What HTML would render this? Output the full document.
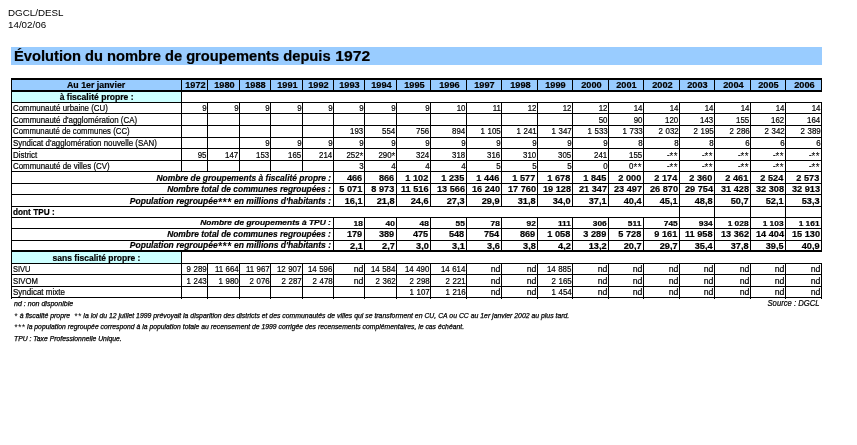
<!DOCTYPE html>
<html><head><meta charset="utf-8"><title>Évolution du nombre de groupements depuis 1972</title>
<style>
html,body{margin:0;padding:0;background:#fff;}
body{width:857px;height:445px;position:relative;overflow:hidden;font-family:"Liberation Sans",sans-serif;color:#000;}
#w{position:absolute;left:0;top:0;width:857px;height:445px;will-change:transform;}
.r{position:absolute;}
.t{position:absolute;white-space:nowrap;font-size:8.5px;line-height:10px;height:10px;overflow:visible;-webkit-text-stroke:0.2px #000;}
.t span{display:inline-block;}
.b{font-weight:bold;}
.bi{font-weight:bold;font-style:italic;}
.sm{font-size:7px;}
.sr{transform-origin:100% 50%;}
.sc{transform-origin:50% 50%;}
.sl{transform-origin:0 50%;}
.hy{transform:scaleX(1.078);}
.br{transform:scaleX(1.078);transform-origin:100% 50%;}
.sm .br{transform:scaleX(1.19);}
.nr{transform:scaleX(0.925);transform-origin:100% 50%;word-spacing:0.35px;}
.nd{transform:scaleX(1.03);transform-origin:100% 50%;}
.as{font-style:inherit;font-size:1.25em;letter-spacing:0.05em;position:relative;top:0.15em;line-height:0;-webkit-text-stroke:0;}
.hd{font-size:9.8px;line-height:12px;-webkit-text-stroke:0;}
.ttl{font-size:14px;font-weight:bold;}
.ttl span{transform:scaleX(1.049);transform-origin:0 50%;}
.fn{font-size:7px;font-style:italic;line-height:11px;-webkit-text-stroke:0.25px #000;}
.fn span{transform-origin:0 50%;}
.src{font-size:8.5px;font-style:italic;line-height:11px;}
.src span{transform-origin:100% 50%;}
</style></head>
<body>
<div id="w">
<div class="r" style="left:11px;top:47px;width:811px;height:18px;background:#9cf"></div>
<div class="r" style="left:11px;top:80px;width:811px;height:10px;background:#9cf"></div>
<div class="r" style="left:12px;top:92px;width:169px;height:10px;background:#cff"></div>
<div class="r" style="left:12px;top:252px;width:169px;height:11px;background:#cff"></div>
<div class="r" style="left:11px;top:78px;width:811px;height:2px;background:#000"></div>
<div class="r" style="left:11px;top:90px;width:811px;height:2px;background:#000"></div>
<div class="r" style="left:11px;top:102px;width:811px;height:1px;background:#000"></div>
<div class="r" style="left:11px;top:113px;width:811px;height:1px;background:#000"></div>
<div class="r" style="left:11px;top:125px;width:811px;height:1px;background:#000"></div>
<div class="r" style="left:11px;top:137px;width:811px;height:1px;background:#000"></div>
<div class="r" style="left:11px;top:148px;width:811px;height:1px;background:#000"></div>
<div class="r" style="left:11px;top:160px;width:811px;height:1px;background:#000"></div>
<div class="r" style="left:11px;top:171px;width:811px;height:1px;background:#000"></div>
<div class="r" style="left:11px;top:183px;width:811px;height:1px;background:#000"></div>
<div class="r" style="left:11px;top:194px;width:811px;height:1px;background:#000"></div>
<div class="r" style="left:11px;top:206px;width:811px;height:1px;background:#000"></div>
<div class="r" style="left:11px;top:217px;width:811px;height:1px;background:#000"></div>
<div class="r" style="left:11px;top:228px;width:811px;height:1px;background:#000"></div>
<div class="r" style="left:11px;top:240px;width:811px;height:1px;background:#000"></div>
<div class="r" style="left:11px;top:250px;width:811px;height:2px;background:#000"></div>
<div class="r" style="left:11px;top:263px;width:811px;height:1px;background:#000"></div>
<div class="r" style="left:11px;top:274px;width:811px;height:1px;background:#000"></div>
<div class="r" style="left:11px;top:286px;width:811px;height:1px;background:#000"></div>
<div class="r" style="left:11px;top:297px;width:811px;height:1px;background:#000"></div>
<div class="r" style="left:11px;top:78px;width:1px;height:221px;background:#000"></div>
<div class="r" style="left:181px;top:78px;width:1px;height:14px;background:#000"></div>
<div class="r" style="left:207px;top:78px;width:1px;height:14px;background:#000"></div>
<div class="r" style="left:239px;top:78px;width:1px;height:14px;background:#000"></div>
<div class="r" style="left:270px;top:78px;width:1px;height:14px;background:#000"></div>
<div class="r" style="left:302px;top:78px;width:1px;height:14px;background:#000"></div>
<div class="r" style="left:333px;top:78px;width:1px;height:14px;background:#000"></div>
<div class="r" style="left:364px;top:78px;width:1px;height:14px;background:#000"></div>
<div class="r" style="left:396px;top:78px;width:1px;height:14px;background:#000"></div>
<div class="r" style="left:430px;top:78px;width:1px;height:14px;background:#000"></div>
<div class="r" style="left:466px;top:78px;width:1px;height:14px;background:#000"></div>
<div class="r" style="left:501px;top:78px;width:1px;height:14px;background:#000"></div>
<div class="r" style="left:537px;top:78px;width:1px;height:14px;background:#000"></div>
<div class="r" style="left:572px;top:78px;width:1px;height:14px;background:#000"></div>
<div class="r" style="left:608px;top:78px;width:1px;height:14px;background:#000"></div>
<div class="r" style="left:643px;top:78px;width:1px;height:14px;background:#000"></div>
<div class="r" style="left:679px;top:78px;width:1px;height:14px;background:#000"></div>
<div class="r" style="left:714px;top:78px;width:1px;height:14px;background:#000"></div>
<div class="r" style="left:750px;top:78px;width:1px;height:14px;background:#000"></div>
<div class="r" style="left:785px;top:78px;width:1px;height:14px;background:#000"></div>
<div class="r" style="left:821px;top:78px;width:1px;height:14px;background:#000"></div>
<div class="r" style="left:181px;top:92px;width:1px;height:80px;background:#000"></div>
<div class="r" style="left:181px;top:252px;width:1px;height:47px;background:#000"></div>
<div class="r" style="left:207px;top:102px;width:1px;height:70px;background:#000"></div>
<div class="r" style="left:207px;top:263px;width:1px;height:36px;background:#000"></div>
<div class="r" style="left:239px;top:102px;width:1px;height:70px;background:#000"></div>
<div class="r" style="left:239px;top:263px;width:1px;height:36px;background:#000"></div>
<div class="r" style="left:270px;top:102px;width:1px;height:70px;background:#000"></div>
<div class="r" style="left:270px;top:263px;width:1px;height:36px;background:#000"></div>
<div class="r" style="left:302px;top:102px;width:1px;height:70px;background:#000"></div>
<div class="r" style="left:302px;top:263px;width:1px;height:36px;background:#000"></div>
<div class="r" style="left:333px;top:102px;width:1px;height:105px;background:#000"></div>
<div class="r" style="left:333px;top:217px;width:1px;height:35px;background:#000"></div>
<div class="r" style="left:333px;top:263px;width:1px;height:36px;background:#000"></div>
<div class="r" style="left:364px;top:102px;width:1px;height:105px;background:#000"></div>
<div class="r" style="left:364px;top:217px;width:1px;height:35px;background:#000"></div>
<div class="r" style="left:364px;top:263px;width:1px;height:36px;background:#000"></div>
<div class="r" style="left:396px;top:102px;width:1px;height:105px;background:#000"></div>
<div class="r" style="left:396px;top:217px;width:1px;height:35px;background:#000"></div>
<div class="r" style="left:396px;top:263px;width:1px;height:36px;background:#000"></div>
<div class="r" style="left:430px;top:102px;width:1px;height:105px;background:#000"></div>
<div class="r" style="left:430px;top:217px;width:1px;height:35px;background:#000"></div>
<div class="r" style="left:430px;top:263px;width:1px;height:36px;background:#000"></div>
<div class="r" style="left:466px;top:102px;width:1px;height:105px;background:#000"></div>
<div class="r" style="left:466px;top:217px;width:1px;height:35px;background:#000"></div>
<div class="r" style="left:466px;top:263px;width:1px;height:36px;background:#000"></div>
<div class="r" style="left:501px;top:102px;width:1px;height:105px;background:#000"></div>
<div class="r" style="left:501px;top:217px;width:1px;height:35px;background:#000"></div>
<div class="r" style="left:501px;top:263px;width:1px;height:36px;background:#000"></div>
<div class="r" style="left:537px;top:102px;width:1px;height:105px;background:#000"></div>
<div class="r" style="left:537px;top:217px;width:1px;height:35px;background:#000"></div>
<div class="r" style="left:537px;top:263px;width:1px;height:36px;background:#000"></div>
<div class="r" style="left:572px;top:102px;width:1px;height:105px;background:#000"></div>
<div class="r" style="left:572px;top:217px;width:1px;height:35px;background:#000"></div>
<div class="r" style="left:572px;top:263px;width:1px;height:36px;background:#000"></div>
<div class="r" style="left:608px;top:102px;width:1px;height:105px;background:#000"></div>
<div class="r" style="left:608px;top:217px;width:1px;height:35px;background:#000"></div>
<div class="r" style="left:608px;top:263px;width:1px;height:36px;background:#000"></div>
<div class="r" style="left:643px;top:102px;width:1px;height:105px;background:#000"></div>
<div class="r" style="left:643px;top:217px;width:1px;height:35px;background:#000"></div>
<div class="r" style="left:643px;top:263px;width:1px;height:36px;background:#000"></div>
<div class="r" style="left:679px;top:102px;width:1px;height:150px;background:#000"></div>
<div class="r" style="left:679px;top:263px;width:1px;height:36px;background:#000"></div>
<div class="r" style="left:714px;top:102px;width:1px;height:150px;background:#000"></div>
<div class="r" style="left:714px;top:263px;width:1px;height:36px;background:#000"></div>
<div class="r" style="left:750px;top:102px;width:1px;height:150px;background:#000"></div>
<div class="r" style="left:750px;top:263px;width:1px;height:36px;background:#000"></div>
<div class="r" style="left:785px;top:102px;width:1px;height:150px;background:#000"></div>
<div class="r" style="left:785px;top:263px;width:1px;height:36px;background:#000"></div>
<div class="r" style="left:821px;top:102px;width:1px;height:150px;background:#000"></div>
<div class="r" style="left:821px;top:263px;width:1px;height:36px;background:#000"></div>
<div class="t b" style="left:12px;top:80px;width:169px;text-align:center;"><span class="sc" style="transform:scaleX(1.036)">Au 1er janvier</span></div>
<div class="t b" style="left:182.5px;top:80px;width:25.0px;text-align:center;"><span class="sc hy">1972</span></div>
<div class="t b" style="left:208.5px;top:80px;width:31.0px;text-align:center;"><span class="sc hy">1980</span></div>
<div class="t b" style="left:240.5px;top:80px;width:30.0px;text-align:center;"><span class="sc hy">1988</span></div>
<div class="t b" style="left:271.5px;top:80px;width:31.0px;text-align:center;"><span class="sc hy">1991</span></div>
<div class="t b" style="left:303.5px;top:80px;width:30.0px;text-align:center;"><span class="sc hy">1992</span></div>
<div class="t b" style="left:334.5px;top:80px;width:30.0px;text-align:center;"><span class="sc hy">1993</span></div>
<div class="t b" style="left:365.5px;top:80px;width:31.0px;text-align:center;"><span class="sc hy">1994</span></div>
<div class="t b" style="left:397.5px;top:80px;width:33.0px;text-align:center;"><span class="sc hy">1995</span></div>
<div class="t b" style="left:431.5px;top:80px;width:35.0px;text-align:center;"><span class="sc hy">1996</span></div>
<div class="t b" style="left:467.5px;top:80px;width:34.0px;text-align:center;"><span class="sc hy">1997</span></div>
<div class="t b" style="left:502.5px;top:80px;width:35.0px;text-align:center;"><span class="sc hy">1998</span></div>
<div class="t b" style="left:538.5px;top:80px;width:34.0px;text-align:center;"><span class="sc hy">1999</span></div>
<div class="t b" style="left:573.5px;top:80px;width:35.0px;text-align:center;"><span class="sc hy">2000</span></div>
<div class="t b" style="left:609.5px;top:80px;width:34.0px;text-align:center;"><span class="sc hy">2001</span></div>
<div class="t b" style="left:644.5px;top:80px;width:35.0px;text-align:center;"><span class="sc hy">2002</span></div>
<div class="t b" style="left:680.5px;top:80px;width:34.0px;text-align:center;"><span class="sc hy">2003</span></div>
<div class="t b" style="left:715.5px;top:80px;width:35.0px;text-align:center;"><span class="sc hy">2004</span></div>
<div class="t b" style="left:751.5px;top:80px;width:34.0px;text-align:center;"><span class="sc hy">2005</span></div>
<div class="t b" style="left:786.5px;top:80px;width:35.0px;text-align:center;"><span class="sc hy">2006</span></div>
<div class="t b" style="left:12px;top:92px;width:169px;text-align:center;"><span class="sc" style="transform:scaleX(1.01)">à fiscalité propre :</span></div>
<div class="t b" style="left:12px;top:253px;width:169px;text-align:center;"><span class="sc" style="transform:scaleX(1.0)">sans fiscalité propre :</span></div>
<div class="t b" style="left:13px;top:207px;width:287px;text-align:left;"><span class="sl" style="transform:scaleX(0.97)">dont TPU :</span></div>
<div class="t " style="left:13px;top:103px;width:168px;text-align:left;"><span class="sl" style="transform:scaleX(0.93)">Communauté urbaine (CU)</span></div>
<div class="t " style="left:13px;top:115px;width:168px;text-align:left;"><span class="sl" style="transform:scaleX(0.93)">Communauté d'agglomération (CA)</span></div>
<div class="t " style="left:13px;top:126px;width:168px;text-align:left;"><span class="sl" style="transform:scaleX(0.918)">Communauté de communes (CC)</span></div>
<div class="t " style="left:13px;top:138px;width:168px;text-align:left;"><span class="sl" style="transform:scaleX(0.93)">Syndicat d'agglomération nouvelle (SAN)</span></div>
<div class="t " style="left:13px;top:150px;width:168px;text-align:left;"><span class="sl" style="transform:scaleX(0.935)">District</span></div>
<div class="t " style="left:13px;top:161px;width:168px;text-align:left;"><span class="sl" style="transform:scaleX(0.93)">Communauté de villes (CV)</span></div>
<div class="t " style="left:13px;top:264px;width:168px;text-align:left;"><span class="sl" style="transform:scaleX(0.88)">SIVU</span></div>
<div class="t " style="left:13px;top:276px;width:168px;text-align:left;"><span class="sl" style="transform:scaleX(0.906)">SIVOM</span></div>
<div class="t " style="left:13px;top:287px;width:168px;text-align:left;"><span class="sl" style="transform:scaleX(0.938)">Syndicat mixte</span></div>
<div class="t bi" style="left:12px;top:173px;width:319px;text-align:right;"><span class="sr" style="transform:scaleX(0.992)">Nombre de groupements à fiscalité propre :</span></div>
<div class="t bi" style="left:12px;top:184px;width:319px;text-align:right;"><span class="sr" style="transform:scaleX(0.987)">Nombre total de communes regroupées :</span></div>
<div class="t bi" style="left:12px;top:196px;width:319px;text-align:right;"><span class="sr" style="transform:scaleX(1.0)">Population regroupée<i class="as">***</i> en millions d'habitants :</span></div>
<div class="t bi sm" style="left:12px;top:218px;width:319px;text-align:right;"><span class="sr" style="transform:scaleX(1.2)">Nombre de groupements à TPU :</span></div>
<div class="t bi" style="left:12px;top:229px;width:319px;text-align:right;"><span class="sr" style="transform:scaleX(0.987)">Nombre total de communes regroupées :</span></div>
<div class="t bi" style="left:12px;top:240px;width:319px;text-align:right;"><span class="sr" style="transform:scaleX(1.0)">Population regroupée<i class="as">***</i> en millions d'habitants :</span></div>
<div class="t " style="left:182px;top:103px;width:24.5px;text-align:right;"><span class="nr">9</span></div>
<div class="t " style="left:208px;top:103px;width:30.5px;text-align:right;"><span class="nr">9</span></div>
<div class="t " style="left:240px;top:103px;width:29.5px;text-align:right;"><span class="nr">9</span></div>
<div class="t " style="left:271px;top:103px;width:30.5px;text-align:right;"><span class="nr">9</span></div>
<div class="t " style="left:303px;top:103px;width:29.5px;text-align:right;"><span class="nr">9</span></div>
<div class="t " style="left:334px;top:103px;width:29.5px;text-align:right;"><span class="nr">9</span></div>
<div class="t " style="left:365px;top:103px;width:30.5px;text-align:right;"><span class="nr">9</span></div>
<div class="t " style="left:397px;top:103px;width:32.5px;text-align:right;"><span class="nr">9</span></div>
<div class="t " style="left:431px;top:103px;width:34.5px;text-align:right;"><span class="nr">10</span></div>
<div class="t " style="left:467px;top:103px;width:33.5px;text-align:right;"><span class="nr">11</span></div>
<div class="t " style="left:502px;top:103px;width:34.5px;text-align:right;"><span class="nr">12</span></div>
<div class="t " style="left:538px;top:103px;width:33.5px;text-align:right;"><span class="nr">12</span></div>
<div class="t " style="left:573px;top:103px;width:34.5px;text-align:right;"><span class="nr">12</span></div>
<div class="t " style="left:609px;top:103px;width:33.5px;text-align:right;"><span class="nr">14</span></div>
<div class="t " style="left:644px;top:103px;width:34.5px;text-align:right;"><span class="nr">14</span></div>
<div class="t " style="left:680px;top:103px;width:33.5px;text-align:right;"><span class="nr">14</span></div>
<div class="t " style="left:715px;top:103px;width:34.5px;text-align:right;"><span class="nr">14</span></div>
<div class="t " style="left:751px;top:103px;width:33.5px;text-align:right;"><span class="nr">14</span></div>
<div class="t " style="left:786px;top:103px;width:34.5px;text-align:right;"><span class="nr">14</span></div>
<div class="t " style="left:573px;top:115px;width:34.5px;text-align:right;"><span class="nr">50</span></div>
<div class="t " style="left:609px;top:115px;width:33.5px;text-align:right;"><span class="nr">90</span></div>
<div class="t " style="left:644px;top:115px;width:34.5px;text-align:right;"><span class="nr">120</span></div>
<div class="t " style="left:680px;top:115px;width:33.5px;text-align:right;"><span class="nr">143</span></div>
<div class="t " style="left:715px;top:115px;width:34.5px;text-align:right;"><span class="nr">155</span></div>
<div class="t " style="left:751px;top:115px;width:33.5px;text-align:right;"><span class="nr">162</span></div>
<div class="t " style="left:786px;top:115px;width:34.5px;text-align:right;"><span class="nr">164</span></div>
<div class="t " style="left:334px;top:126px;width:29.5px;text-align:right;"><span class="nr">193</span></div>
<div class="t " style="left:365px;top:126px;width:30.5px;text-align:right;"><span class="nr">554</span></div>
<div class="t " style="left:397px;top:126px;width:32.5px;text-align:right;"><span class="nr">756</span></div>
<div class="t " style="left:431px;top:126px;width:34.5px;text-align:right;"><span class="nr">894</span></div>
<div class="t " style="left:467px;top:126px;width:33.5px;text-align:right;"><span class="nr">1 105</span></div>
<div class="t " style="left:502px;top:126px;width:34.5px;text-align:right;"><span class="nr">1 241</span></div>
<div class="t " style="left:538px;top:126px;width:33.5px;text-align:right;"><span class="nr">1 347</span></div>
<div class="t " style="left:573px;top:126px;width:34.5px;text-align:right;"><span class="nr">1 533</span></div>
<div class="t " style="left:609px;top:126px;width:33.5px;text-align:right;"><span class="nr">1 733</span></div>
<div class="t " style="left:644px;top:126px;width:34.5px;text-align:right;"><span class="nr">2 032</span></div>
<div class="t " style="left:680px;top:126px;width:33.5px;text-align:right;"><span class="nr">2 195</span></div>
<div class="t " style="left:715px;top:126px;width:34.5px;text-align:right;"><span class="nr">2 286</span></div>
<div class="t " style="left:751px;top:126px;width:33.5px;text-align:right;"><span class="nr">2 342</span></div>
<div class="t " style="left:786px;top:126px;width:34.5px;text-align:right;"><span class="nr">2 389</span></div>
<div class="t " style="left:240px;top:138px;width:29.5px;text-align:right;"><span class="nr">9</span></div>
<div class="t " style="left:271px;top:138px;width:30.5px;text-align:right;"><span class="nr">9</span></div>
<div class="t " style="left:303px;top:138px;width:29.5px;text-align:right;"><span class="nr">9</span></div>
<div class="t " style="left:334px;top:138px;width:29.5px;text-align:right;"><span class="nr">9</span></div>
<div class="t " style="left:365px;top:138px;width:30.5px;text-align:right;"><span class="nr">9</span></div>
<div class="t " style="left:397px;top:138px;width:32.5px;text-align:right;"><span class="nr">9</span></div>
<div class="t " style="left:431px;top:138px;width:34.5px;text-align:right;"><span class="nr">9</span></div>
<div class="t " style="left:467px;top:138px;width:33.5px;text-align:right;"><span class="nr">9</span></div>
<div class="t " style="left:502px;top:138px;width:34.5px;text-align:right;"><span class="nr">9</span></div>
<div class="t " style="left:538px;top:138px;width:33.5px;text-align:right;"><span class="nr">9</span></div>
<div class="t " style="left:573px;top:138px;width:34.5px;text-align:right;"><span class="nr">9</span></div>
<div class="t " style="left:609px;top:138px;width:33.5px;text-align:right;"><span class="nr">8</span></div>
<div class="t " style="left:644px;top:138px;width:34.5px;text-align:right;"><span class="nr">8</span></div>
<div class="t " style="left:680px;top:138px;width:33.5px;text-align:right;"><span class="nr">8</span></div>
<div class="t " style="left:715px;top:138px;width:34.5px;text-align:right;"><span class="nr">6</span></div>
<div class="t " style="left:751px;top:138px;width:33.5px;text-align:right;"><span class="nr">6</span></div>
<div class="t " style="left:786px;top:138px;width:34.5px;text-align:right;"><span class="nr">6</span></div>
<div class="t " style="left:182px;top:150px;width:24.5px;text-align:right;"><span class="nr">95</span></div>
<div class="t " style="left:208px;top:150px;width:30.5px;text-align:right;"><span class="nr">147</span></div>
<div class="t " style="left:240px;top:150px;width:29.5px;text-align:right;"><span class="nr">153</span></div>
<div class="t " style="left:271px;top:150px;width:30.5px;text-align:right;"><span class="nr">165</span></div>
<div class="t " style="left:303px;top:150px;width:29.5px;text-align:right;"><span class="nr">214</span></div>
<div class="t " style="left:334px;top:150px;width:29.5px;text-align:right;"><span class="nr">252<i class="as">*</i></span></div>
<div class="t " style="left:365px;top:150px;width:30.5px;text-align:right;"><span class="nr">290<i class="as">*</i></span></div>
<div class="t " style="left:397px;top:150px;width:32.5px;text-align:right;"><span class="nr">324</span></div>
<div class="t " style="left:431px;top:150px;width:34.5px;text-align:right;"><span class="nr">318</span></div>
<div class="t " style="left:467px;top:150px;width:33.5px;text-align:right;"><span class="nr">316</span></div>
<div class="t " style="left:502px;top:150px;width:34.5px;text-align:right;"><span class="nr">310</span></div>
<div class="t " style="left:538px;top:150px;width:33.5px;text-align:right;"><span class="nr">305</span></div>
<div class="t " style="left:573px;top:150px;width:34.5px;text-align:right;"><span class="nr">241</span></div>
<div class="t " style="left:609px;top:150px;width:33.5px;text-align:right;"><span class="nr">155</span></div>
<div class="t " style="left:644px;top:150px;width:34.5px;text-align:right;"><span class="nr">-<i class="as">**</i></span></div>
<div class="t " style="left:680px;top:150px;width:33.5px;text-align:right;"><span class="nr">-<i class="as">**</i></span></div>
<div class="t " style="left:715px;top:150px;width:34.5px;text-align:right;"><span class="nr">-<i class="as">**</i></span></div>
<div class="t " style="left:751px;top:150px;width:33.5px;text-align:right;"><span class="nr">-<i class="as">**</i></span></div>
<div class="t " style="left:786px;top:150px;width:34.5px;text-align:right;"><span class="nr">-<i class="as">**</i></span></div>
<div class="t " style="left:334px;top:161px;width:29.5px;text-align:right;"><span class="nr">3</span></div>
<div class="t " style="left:365px;top:161px;width:30.5px;text-align:right;"><span class="nr">4</span></div>
<div class="t " style="left:397px;top:161px;width:32.5px;text-align:right;"><span class="nr">4</span></div>
<div class="t " style="left:431px;top:161px;width:34.5px;text-align:right;"><span class="nr">4</span></div>
<div class="t " style="left:467px;top:161px;width:33.5px;text-align:right;"><span class="nr">5</span></div>
<div class="t " style="left:502px;top:161px;width:34.5px;text-align:right;"><span class="nr">5</span></div>
<div class="t " style="left:538px;top:161px;width:33.5px;text-align:right;"><span class="nr">5</span></div>
<div class="t " style="left:573px;top:161px;width:34.5px;text-align:right;"><span class="nr">0</span></div>
<div class="t " style="left:609px;top:161px;width:33.5px;text-align:right;"><span class="nr">0<i class="as">**</i></span></div>
<div class="t " style="left:644px;top:161px;width:34.5px;text-align:right;"><span class="nr">-<i class="as">**</i></span></div>
<div class="t " style="left:680px;top:161px;width:33.5px;text-align:right;"><span class="nr">-<i class="as">**</i></span></div>
<div class="t " style="left:715px;top:161px;width:34.5px;text-align:right;"><span class="nr">-<i class="as">**</i></span></div>
<div class="t " style="left:751px;top:161px;width:33.5px;text-align:right;"><span class="nr">-<i class="as">**</i></span></div>
<div class="t " style="left:786px;top:161px;width:34.5px;text-align:right;"><span class="nr">-<i class="as">**</i></span></div>
<div class="t b" style="left:334px;top:173px;width:28.5px;text-align:right;"><span class="br">466</span></div>
<div class="t b" style="left:365px;top:173px;width:29.5px;text-align:right;"><span class="br">866</span></div>
<div class="t b" style="left:397px;top:173px;width:31.5px;text-align:right;"><span class="br">1 102</span></div>
<div class="t b" style="left:431px;top:173px;width:33.5px;text-align:right;"><span class="br">1 235</span></div>
<div class="t b" style="left:467px;top:173px;width:32.5px;text-align:right;"><span class="br">1 446</span></div>
<div class="t b" style="left:502px;top:173px;width:33.5px;text-align:right;"><span class="br">1 577</span></div>
<div class="t b" style="left:538px;top:173px;width:32.5px;text-align:right;"><span class="br">1 678</span></div>
<div class="t b" style="left:573px;top:173px;width:33.5px;text-align:right;"><span class="br">1 845</span></div>
<div class="t b" style="left:609px;top:173px;width:32.5px;text-align:right;"><span class="br">2 000</span></div>
<div class="t b" style="left:644px;top:173px;width:33.5px;text-align:right;"><span class="br">2 174</span></div>
<div class="t b" style="left:680px;top:173px;width:32.5px;text-align:right;"><span class="br">2 360</span></div>
<div class="t b" style="left:715px;top:173px;width:33.5px;text-align:right;"><span class="br">2 461</span></div>
<div class="t b" style="left:751px;top:173px;width:32.5px;text-align:right;"><span class="br">2 524</span></div>
<div class="t b" style="left:786px;top:173px;width:33.5px;text-align:right;"><span class="br">2 573</span></div>
<div class="t b" style="left:334px;top:184px;width:28.5px;text-align:right;"><span class="br">5 071</span></div>
<div class="t b" style="left:365px;top:184px;width:29.5px;text-align:right;"><span class="br">8 973</span></div>
<div class="t b" style="left:397px;top:184px;width:31.5px;text-align:right;"><span class="br">11 516</span></div>
<div class="t b" style="left:431px;top:184px;width:33.5px;text-align:right;"><span class="br">13 566</span></div>
<div class="t b" style="left:467px;top:184px;width:32.5px;text-align:right;"><span class="br">16 240</span></div>
<div class="t b" style="left:502px;top:184px;width:33.5px;text-align:right;"><span class="br">17 760</span></div>
<div class="t b" style="left:538px;top:184px;width:32.5px;text-align:right;"><span class="br">19 128</span></div>
<div class="t b" style="left:573px;top:184px;width:33.5px;text-align:right;"><span class="br">21 347</span></div>
<div class="t b" style="left:609px;top:184px;width:32.5px;text-align:right;"><span class="br">23 497</span></div>
<div class="t b" style="left:644px;top:184px;width:33.5px;text-align:right;"><span class="br">26 870</span></div>
<div class="t b" style="left:680px;top:184px;width:32.5px;text-align:right;"><span class="br">29 754</span></div>
<div class="t b" style="left:715px;top:184px;width:33.5px;text-align:right;"><span class="br">31 428</span></div>
<div class="t b" style="left:751px;top:184px;width:32.5px;text-align:right;"><span class="br">32 308</span></div>
<div class="t b" style="left:786px;top:184px;width:33.5px;text-align:right;"><span class="br">32 913</span></div>
<div class="t b" style="left:334px;top:196px;width:28.5px;text-align:right;"><span class="br">16,1</span></div>
<div class="t b" style="left:365px;top:196px;width:29.5px;text-align:right;"><span class="br">21,8</span></div>
<div class="t b" style="left:397px;top:196px;width:31.5px;text-align:right;"><span class="br">24,6</span></div>
<div class="t b" style="left:431px;top:196px;width:33.5px;text-align:right;"><span class="br">27,3</span></div>
<div class="t b" style="left:467px;top:196px;width:32.5px;text-align:right;"><span class="br">29,9</span></div>
<div class="t b" style="left:502px;top:196px;width:33.5px;text-align:right;"><span class="br">31,8</span></div>
<div class="t b" style="left:538px;top:196px;width:32.5px;text-align:right;"><span class="br">34,0</span></div>
<div class="t b" style="left:573px;top:196px;width:33.5px;text-align:right;"><span class="br">37,1</span></div>
<div class="t b" style="left:609px;top:196px;width:32.5px;text-align:right;"><span class="br">40,4</span></div>
<div class="t b" style="left:644px;top:196px;width:33.5px;text-align:right;"><span class="br">45,1</span></div>
<div class="t b" style="left:680px;top:196px;width:32.5px;text-align:right;"><span class="br">48,8</span></div>
<div class="t b" style="left:715px;top:196px;width:33.5px;text-align:right;"><span class="br">50,7</span></div>
<div class="t b" style="left:751px;top:196px;width:32.5px;text-align:right;"><span class="br">52,1</span></div>
<div class="t b" style="left:786px;top:196px;width:33.5px;text-align:right;"><span class="br">53,3</span></div>
<div class="t b sm" style="left:334px;top:219px;width:28.5px;text-align:right;"><span class="br">18</span></div>
<div class="t b sm" style="left:365px;top:219px;width:29.5px;text-align:right;"><span class="br">40</span></div>
<div class="t b sm" style="left:397px;top:219px;width:31.5px;text-align:right;"><span class="br">48</span></div>
<div class="t b sm" style="left:431px;top:219px;width:33.5px;text-align:right;"><span class="br">55</span></div>
<div class="t b sm" style="left:467px;top:219px;width:32.5px;text-align:right;"><span class="br">78</span></div>
<div class="t b sm" style="left:502px;top:219px;width:33.5px;text-align:right;"><span class="br">92</span></div>
<div class="t b sm" style="left:538px;top:219px;width:32.5px;text-align:right;"><span class="br">111</span></div>
<div class="t b sm" style="left:573px;top:219px;width:33.5px;text-align:right;"><span class="br">306</span></div>
<div class="t b sm" style="left:609px;top:219px;width:32.5px;text-align:right;"><span class="br">511</span></div>
<div class="t b sm" style="left:644px;top:219px;width:33.5px;text-align:right;"><span class="br">745</span></div>
<div class="t b sm" style="left:680px;top:219px;width:32.5px;text-align:right;"><span class="br">934</span></div>
<div class="t b sm" style="left:715px;top:219px;width:33.5px;text-align:right;"><span class="br">1 028</span></div>
<div class="t b sm" style="left:751px;top:219px;width:32.5px;text-align:right;"><span class="br">1 103</span></div>
<div class="t b sm" style="left:786px;top:219px;width:33.5px;text-align:right;"><span class="br">1 161</span></div>
<div class="t b" style="left:334px;top:229px;width:28.5px;text-align:right;"><span class="br">179</span></div>
<div class="t b" style="left:365px;top:229px;width:29.5px;text-align:right;"><span class="br">389</span></div>
<div class="t b" style="left:397px;top:229px;width:31.5px;text-align:right;"><span class="br">475</span></div>
<div class="t b" style="left:431px;top:229px;width:33.5px;text-align:right;"><span class="br">548</span></div>
<div class="t b" style="left:467px;top:229px;width:32.5px;text-align:right;"><span class="br">754</span></div>
<div class="t b" style="left:502px;top:229px;width:33.5px;text-align:right;"><span class="br">869</span></div>
<div class="t b" style="left:538px;top:229px;width:32.5px;text-align:right;"><span class="br">1 058</span></div>
<div class="t b" style="left:573px;top:229px;width:33.5px;text-align:right;"><span class="br">3 289</span></div>
<div class="t b" style="left:609px;top:229px;width:32.5px;text-align:right;"><span class="br">5 728</span></div>
<div class="t b" style="left:644px;top:229px;width:33.5px;text-align:right;"><span class="br">9 161</span></div>
<div class="t b" style="left:680px;top:229px;width:32.5px;text-align:right;"><span class="br">11 958</span></div>
<div class="t b" style="left:715px;top:229px;width:33.5px;text-align:right;"><span class="br">13 362</span></div>
<div class="t b" style="left:751px;top:229px;width:32.5px;text-align:right;"><span class="br">14 404</span></div>
<div class="t b" style="left:786px;top:229px;width:33.5px;text-align:right;"><span class="br">15 130</span></div>
<div class="t b" style="left:334px;top:241px;width:28.5px;text-align:right;"><span class="br">2,1</span></div>
<div class="t b" style="left:365px;top:241px;width:29.5px;text-align:right;"><span class="br">2,7</span></div>
<div class="t b" style="left:397px;top:241px;width:31.5px;text-align:right;"><span class="br">3,0</span></div>
<div class="t b" style="left:431px;top:241px;width:33.5px;text-align:right;"><span class="br">3,1</span></div>
<div class="t b" style="left:467px;top:241px;width:32.5px;text-align:right;"><span class="br">3,6</span></div>
<div class="t b" style="left:502px;top:241px;width:33.5px;text-align:right;"><span class="br">3,8</span></div>
<div class="t b" style="left:538px;top:241px;width:32.5px;text-align:right;"><span class="br">4,2</span></div>
<div class="t b" style="left:573px;top:241px;width:33.5px;text-align:right;"><span class="br">13,2</span></div>
<div class="t b" style="left:609px;top:241px;width:32.5px;text-align:right;"><span class="br">20,7</span></div>
<div class="t b" style="left:644px;top:241px;width:33.5px;text-align:right;"><span class="br">29,7</span></div>
<div class="t b" style="left:680px;top:241px;width:32.5px;text-align:right;"><span class="br">35,4</span></div>
<div class="t b" style="left:715px;top:241px;width:33.5px;text-align:right;"><span class="br">37,8</span></div>
<div class="t b" style="left:751px;top:241px;width:32.5px;text-align:right;"><span class="br">39,5</span></div>
<div class="t b" style="left:786px;top:241px;width:33.5px;text-align:right;"><span class="br">40,9</span></div>
<div class="t " style="left:182px;top:264px;width:24.5px;text-align:right;"><span class="nr">9 289</span></div>
<div class="t " style="left:208px;top:264px;width:30.5px;text-align:right;"><span class="nr">11 664</span></div>
<div class="t " style="left:240px;top:264px;width:29.5px;text-align:right;"><span class="nr">11 967</span></div>
<div class="t " style="left:271px;top:264px;width:30.5px;text-align:right;"><span class="nr">12 907</span></div>
<div class="t " style="left:303px;top:264px;width:29.5px;text-align:right;"><span class="nr">14 596</span></div>
<div class="t " style="left:334px;top:264px;width:29.5px;text-align:right;"><span class="nd">nd</span></div>
<div class="t " style="left:365px;top:264px;width:30.5px;text-align:right;"><span class="nr">14 584</span></div>
<div class="t " style="left:397px;top:264px;width:32.5px;text-align:right;"><span class="nr">14 490</span></div>
<div class="t " style="left:431px;top:264px;width:34.5px;text-align:right;"><span class="nr">14 614</span></div>
<div class="t " style="left:467px;top:264px;width:33.5px;text-align:right;"><span class="nd">nd</span></div>
<div class="t " style="left:502px;top:264px;width:34.5px;text-align:right;"><span class="nd">nd</span></div>
<div class="t " style="left:538px;top:264px;width:33.5px;text-align:right;"><span class="nr">14 885</span></div>
<div class="t " style="left:573px;top:264px;width:34.5px;text-align:right;"><span class="nd">nd</span></div>
<div class="t " style="left:609px;top:264px;width:33.5px;text-align:right;"><span class="nd">nd</span></div>
<div class="t " style="left:644px;top:264px;width:34.5px;text-align:right;"><span class="nd">nd</span></div>
<div class="t " style="left:680px;top:264px;width:33.5px;text-align:right;"><span class="nd">nd</span></div>
<div class="t " style="left:715px;top:264px;width:34.5px;text-align:right;"><span class="nd">nd</span></div>
<div class="t " style="left:751px;top:264px;width:33.5px;text-align:right;"><span class="nd">nd</span></div>
<div class="t " style="left:786px;top:264px;width:34.5px;text-align:right;"><span class="nd">nd</span></div>
<div class="t " style="left:182px;top:276px;width:24.5px;text-align:right;"><span class="nr">1 243</span></div>
<div class="t " style="left:208px;top:276px;width:30.5px;text-align:right;"><span class="nr">1 980</span></div>
<div class="t " style="left:240px;top:276px;width:29.5px;text-align:right;"><span class="nr">2 076</span></div>
<div class="t " style="left:271px;top:276px;width:30.5px;text-align:right;"><span class="nr">2 287</span></div>
<div class="t " style="left:303px;top:276px;width:29.5px;text-align:right;"><span class="nr">2 478</span></div>
<div class="t " style="left:334px;top:276px;width:29.5px;text-align:right;"><span class="nd">nd</span></div>
<div class="t " style="left:365px;top:276px;width:30.5px;text-align:right;"><span class="nr">2 362</span></div>
<div class="t " style="left:397px;top:276px;width:32.5px;text-align:right;"><span class="nr">2 298</span></div>
<div class="t " style="left:431px;top:276px;width:34.5px;text-align:right;"><span class="nr">2 221</span></div>
<div class="t " style="left:467px;top:276px;width:33.5px;text-align:right;"><span class="nd">nd</span></div>
<div class="t " style="left:502px;top:276px;width:34.5px;text-align:right;"><span class="nd">nd</span></div>
<div class="t " style="left:538px;top:276px;width:33.5px;text-align:right;"><span class="nr">2 165</span></div>
<div class="t " style="left:573px;top:276px;width:34.5px;text-align:right;"><span class="nd">nd</span></div>
<div class="t " style="left:609px;top:276px;width:33.5px;text-align:right;"><span class="nd">nd</span></div>
<div class="t " style="left:644px;top:276px;width:34.5px;text-align:right;"><span class="nd">nd</span></div>
<div class="t " style="left:680px;top:276px;width:33.5px;text-align:right;"><span class="nd">nd</span></div>
<div class="t " style="left:715px;top:276px;width:34.5px;text-align:right;"><span class="nd">nd</span></div>
<div class="t " style="left:751px;top:276px;width:33.5px;text-align:right;"><span class="nd">nd</span></div>
<div class="t " style="left:786px;top:276px;width:34.5px;text-align:right;"><span class="nd">nd</span></div>
<div class="t " style="left:397px;top:287px;width:32.5px;text-align:right;"><span class="nr">1 107</span></div>
<div class="t " style="left:431px;top:287px;width:34.5px;text-align:right;"><span class="nr">1 216</span></div>
<div class="t " style="left:467px;top:287px;width:33.5px;text-align:right;"><span class="nd">nd</span></div>
<div class="t " style="left:502px;top:287px;width:34.5px;text-align:right;"><span class="nd">nd</span></div>
<div class="t " style="left:538px;top:287px;width:33.5px;text-align:right;"><span class="nr">1 454</span></div>
<div class="t " style="left:573px;top:287px;width:34.5px;text-align:right;"><span class="nd">nd</span></div>
<div class="t " style="left:609px;top:287px;width:33.5px;text-align:right;"><span class="nd">nd</span></div>
<div class="t " style="left:644px;top:287px;width:34.5px;text-align:right;"><span class="nd">nd</span></div>
<div class="t " style="left:680px;top:287px;width:33.5px;text-align:right;"><span class="nd">nd</span></div>
<div class="t " style="left:715px;top:287px;width:34.5px;text-align:right;"><span class="nd">nd</span></div>
<div class="t " style="left:751px;top:287px;width:33.5px;text-align:right;"><span class="nd">nd</span></div>
<div class="t " style="left:786px;top:287px;width:34.5px;text-align:right;"><span class="nd">nd</span></div>
<div class="t hd" style="left:8px;top:7px;">DGCL/DESL</div>
<div class="t hd" style="left:8px;top:19px;">14/02/06</div>
<div class="t ttl" style="left:14px;top:47px;height:18px;line-height:18px;"><span>Évolution du nombre de groupements depuis</span></div>
<div class="t ttl" style="left:300px;width:70px;text-align:right;top:47px;height:18px;line-height:18px;"><span style="transform:scaleX(1.12);transform-origin:100% 50%">1972</span></div>
<div class="t fn" style="left:14px;top:298px;"><span style="transform:scaleX(1.007)">nd : non disponible</span></div>
<div class="t fn" style="left:14px;top:310px;"><span style="transform:scaleX(0.9815)"><i class="as">*</i> à fiscalité propre&nbsp; <i class="as">**</i> la loi du 12 juillet 1999 prévoyait la disparition des districts et des communautés de villes qui se transforment en CU, CA ou CC au 1er janvier 2002 au plus tard.</span></div>
<div class="t fn" style="left:14px;top:321px;"><span style="transform:scaleX(0.973)"><i class="as">***</i> la population regroupée correspond à la population totale au recensement de 1999 corrigée des recensements complémentaires, le cas échéant.</span></div>
<div class="t fn" style="left:14px;top:333px;"><span style="transform:scaleX(0.973)">TPU : Taxe Professionnelle Unique.</span></div>
<div class="t src" style="left:600px;width:220px;top:298px;text-align:right;"><span style="transform:scaleX(0.905)">Source : DGCL</span></div>
</div>
</body></html>
